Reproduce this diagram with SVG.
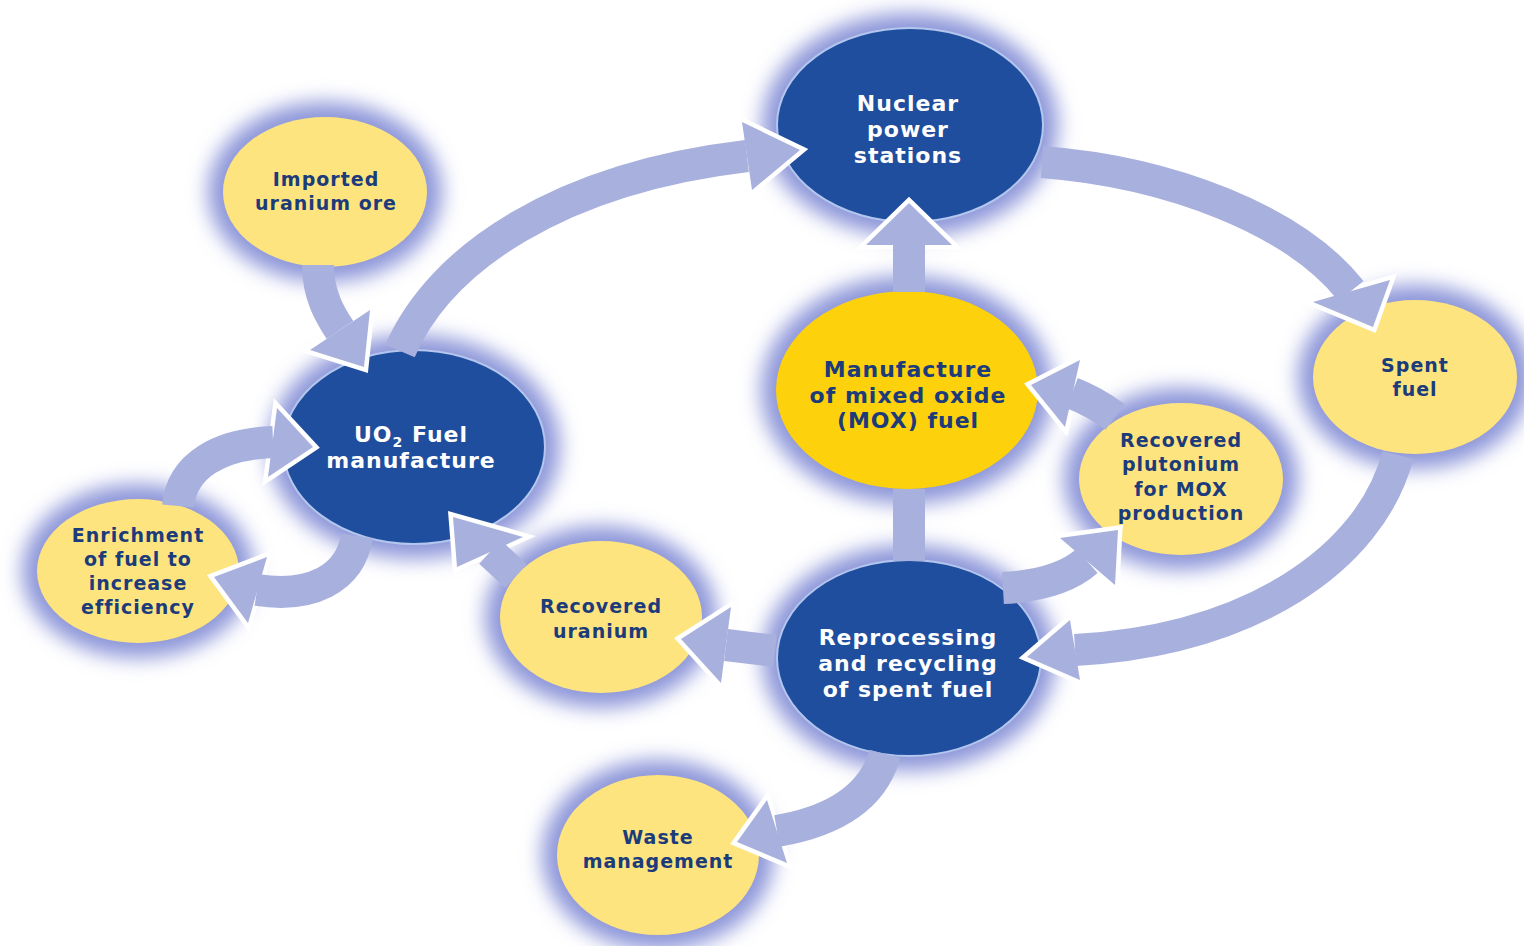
<svg xmlns="http://www.w3.org/2000/svg" width="1524" height="946" viewBox="0 0 1524 946">
<defs>
<filter id="glow" x="-30%" y="-30%" width="160%" height="160%"><feGaussianBlur stdDeviation="10"/></filter>
</defs>
<style>
.halo{fill:#8d96d9;filter:url(#glow)}
.blue{fill:#1f4e9e;stroke:#b3c6ee;stroke-width:2}
.yel{fill:#fde47f}
.gold{fill:#fdd10c}
.tw{fill:#ffffff;font-family:"DejaVu Sans",sans-serif;font-weight:bold;font-size:22px;letter-spacing:1px;text-anchor:middle}
.ty{fill:#1b3b7a;font-family:"DejaVu Sans",sans-serif;font-weight:bold;font-size:19px;letter-spacing:1px;text-anchor:middle}
.tyl{fill:#1b3b7a;font-family:"DejaVu Sans",sans-serif;font-weight:bold;font-size:22px;letter-spacing:1px;text-anchor:middle}
.band{fill:none;stroke:#a8b0dd;stroke-width:32}
.head{fill:#a8b0dd}
.hout{fill:#ffffff;stroke:#ffffff;stroke-width:9;stroke-linejoin:miter}
</style>
<rect width="1524" height="946" fill="#ffffff"/>

<g id="node-nps">
<ellipse class="halo" cx="910" cy="125" rx="148" ry="112"/>
<ellipse class="blue" cx="910" cy="125" rx="133" ry="97"/>
<text class="tw"><tspan x="908" y="111">Nuclear</tspan><tspan x="908" y="137">power</tspan><tspan x="908" y="163">stations</tspan></text>
</g>
<g id="node-uo2">
<ellipse class="halo" cx="414" cy="447" rx="146" ry="112"/>
<ellipse class="blue" cx="414" cy="447" rx="131" ry="97"/>
<text class="tw"><tspan x="411" y="442">UO<tspan font-size="14" dy="5">2</tspan><tspan dy="-5"> Fuel</tspan></tspan><tspan x="411" y="468">manufacture</tspan></text>
</g>
<g id="node-imported">
<ellipse class="halo" cx="325" cy="192" rx="117" ry="90"/>
<ellipse class="yel" cx="325" cy="192" rx="102" ry="75"/>
<text class="ty"><tspan x="326" y="186">Imported</tspan><tspan x="326" y="210">uranium ore</tspan></text>
</g>
<g id="node-enrichment">
<ellipse class="halo" cx="138" cy="571" rx="116" ry="87"/>
<ellipse class="yel" cx="138" cy="571" rx="101" ry="72"/>
<text class="ty"><tspan x="138" y="542">Enrichment</tspan><tspan x="138" y="566">of fuel to</tspan><tspan x="138" y="590">increase</tspan><tspan x="138" y="614">efficiency</tspan></text>
</g>
<g id="node-recovered-uranium">
<ellipse class="halo" cx="601" cy="617" rx="116" ry="91"/>
<ellipse class="yel" cx="601" cy="617" rx="101" ry="76"/>
<text class="ty"><tspan x="601" y="613">Recovered</tspan><tspan x="601" y="638">uranium</tspan></text>
</g>
<g id="node-mox">
<ellipse class="halo" cx="907" cy="390" rx="146" ry="114"/>
<ellipse class="gold" cx="907" cy="390" rx="131" ry="99"/>
<text class="tyl"><tspan x="908" y="377">Manufacture</tspan><tspan x="908" y="403">of mixed oxide</tspan><tspan x="908" y="428">(MOX) fuel</tspan></text>
</g>
<g id="node-plutonium">
<ellipse class="halo" cx="1181" cy="479" rx="117" ry="91"/>
<ellipse class="yel" cx="1181" cy="479" rx="102" ry="76"/>
<text class="ty"><tspan x="1181" y="447">Recovered</tspan><tspan x="1181" y="471">plutonium</tspan><tspan x="1181" y="496">for MOX</tspan><tspan x="1181" y="520">production</tspan></text>
</g>
<g id="node-spent">
<ellipse class="halo" cx="1415" cy="377" rx="117" ry="92"/>
<ellipse class="yel" cx="1415" cy="377" rx="102" ry="77"/>
<text class="ty"><tspan x="1415" y="372">Spent</tspan><tspan x="1415" y="396">fuel</tspan></text>
</g>
<g id="node-reprocessing">
<ellipse class="halo" cx="909" cy="658" rx="147" ry="113"/>
<ellipse class="blue" cx="909" cy="658" rx="132" ry="98"/>
<text class="tw"><tspan x="908" y="645">Reprocessing</tspan><tspan x="908" y="671">and recycling</tspan><tspan x="908" y="697">of spent fuel</tspan></text>
</g>
<g id="node-waste">
<ellipse class="halo" cx="658" cy="855" rx="116" ry="95"/>
<ellipse class="yel" cx="658" cy="855" rx="101" ry="80"/>
<text class="ty"><tspan x="658" y="844">Waste</tspan><tspan x="658" y="868">management</tspan></text>
</g>

<g id="connectors">
<g id="c-imported-uo2">
<polygon class="hout" points="310,350 364,367 370,310"/>
<path class="band" d="M 318 265 C 318 295 330 315 340 330"/>
<polygon class="head" points="310,350 364,367 370,310"/>
</g>
<g id="c-uo2-nps">
<polygon class="hout" points="742,122 800,150 752,190"/>
<path class="band" d="M 400 351 C 440 258 560 178 747 156"/>
<polygon class="head" points="742,122 800,150 752,190"/>
</g>
<g id="c-nps-spent">
<polygon class="hout" points="1313,302 1373,327 1390,280"/>
<path class="band" d="M 1042 162 C 1170 172 1295 220 1351 291"/>
<polygon class="head" points="1313,302 1373,327 1390,280"/>
</g>
<g id="c-spent-repro">
<polygon class="hout" points="1070,620 1027,657 1080,680"/>
<path class="band" d="M 1398 455 C 1370 560 1250 640 1075 650"/>
<polygon class="head" points="1070,620 1027,657 1080,680"/>
</g>
<g id="c-repro-mox">
<path class="band" d="M 909 489 L 909 561" stroke-width="34"/>
</g>
<g id="c-mox-nps">
<polygon class="hout" points="866,245 909,203 952,245"/>
<path class="band" d="M 909 292 L 909 244" stroke-width="34"/>
<polygon class="head" points="866,245 909,203 952,245"/>
</g>
<g id="c-repro-plutonium">
<polygon class="hout" points="1060,538 1118,530 1115,585"/>
<path class="band" d="M 1003 588 Q 1060 585 1087 561"/>
<polygon class="head" points="1060,538 1118,530 1115,585"/>
</g>
<g id="c-plutonium-mox">
<polygon class="hout" points="1080,360 1031,385 1065,427"/>
<path class="band" d="M 1115 417 Q 1095 402 1072 393"/>
<polygon class="head" points="1080,360 1031,385 1065,427"/>
</g>
<g id="c-repro-uranium">
<polygon class="hout" points="731,607 681,639 721,683"/>
<path class="band" d="M 775 651 L 726 645"/>
<polygon class="head" points="731,607 681,639 721,683"/>
</g>
<g id="c-uranium-uo2">
<polygon class="hout" points="523,537 453,517 457,567"/>
<path class="band" d="M 516 576 L 490 552"/>
<polygon class="head" points="523,537 453,517 457,567"/>
</g>
<g id="c-enrich-uo2">
<polygon class="hout" points="277,408 313,447 268,477"/>
<path class="band" d="M 178 506 C 182 465 220 444 273 442"/>
<polygon class="head" points="277,408 313,447 268,477"/>
</g>
<g id="c-uo2-enrich">
<polygon class="hout" points="267,557 214,577 248,623"/>
<path class="band" d="M 357 536 C 350 580 310 598 257 590"/>
<polygon class="head" points="267,557 214,577 248,623"/>
</g>
<g id="c-repro-waste">
<polygon class="hout" points="767,800 737,842 787,863"/>
<path class="band" d="M 885 754 C 872 800 830 822 777 831"/>
<polygon class="head" points="767,800 737,842 787,863"/>
</g>
</g>
</svg>
